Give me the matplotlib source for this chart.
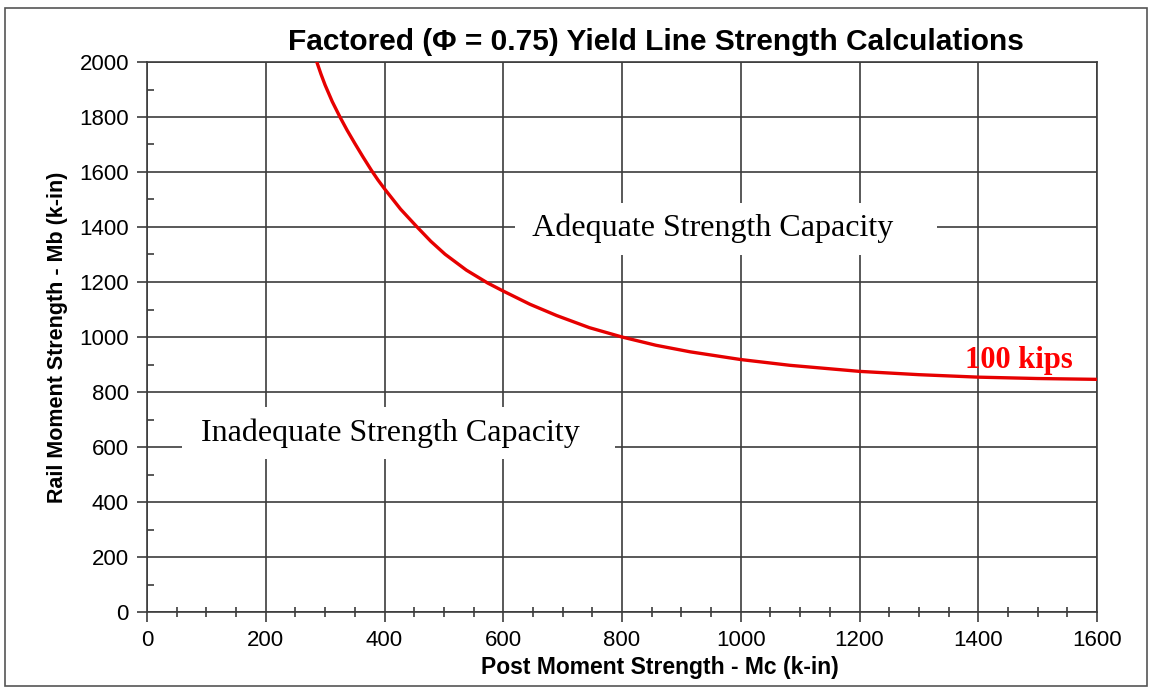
import matplotlib
matplotlib.use("Agg")
import matplotlib.pyplot as plt
from matplotlib.patches import Rectangle
from matplotlib.ticker import MultipleLocator

# Values (100 kips yield line)
post_moment = [286, 293, 300, 312, 325, 337, 350, 364, 378, 389, 400, 427, 454,
               478, 502, 538, 574, 600, 645, 690, 745, 800, 857, 915, 1000,
               1083, 1200, 1300, 1400, 1500, 1600]
rail_moment = [2000, 1956, 1916, 1856, 1800, 1752, 1704, 1654, 1606, 1571, 1539, 1465, 1402,
               1348, 1301, 1243, 1196, 1167, 1119, 1078, 1034, 1000, 970, 946, 918,
               897, 875, 863, 854, 849, 846]

title = "Factored (\u03a6 = 0.75) Yield Line Strength Calculations"
xlabel = "Post Moment Strength - Mc (k-in)"
ylabel = "Rail Moment Strength - Mb (k-in)"
curve_label = "100 kips"

sans = ["Liberation Sans", "DejaVu Sans"]
serif = ["Liberation Serif", "DejaVu Serif"]
grid_color = "#3c3c3c"

fig = plt.figure(figsize=(11.51, 6.89), dpi=100)
ax = fig.add_axes([147 / 1151, 1 - 612 / 689, 950 / 1151, 550 / 689])

ax.plot(post_moment, rail_moment, color="#e60000", linewidth=2.4, zorder=3,
        solid_joinstyle="round")

ax.set_xlim(0, 1600)
ax.set_ylim(0, 2000)
ax.xaxis.set_major_locator(MultipleLocator(200))
ax.xaxis.set_minor_locator(MultipleLocator(50))
ax.yaxis.set_major_locator(MultipleLocator(200))
ax.yaxis.set_minor_locator(MultipleLocator(100))
ax.grid(True, which="major", color=grid_color, linewidth=1.2)
ax.set_axisbelow(True)

ax.tick_params(axis="both", which="major", direction="out", length=7,
               width=1.2, color=grid_color, labelsize=16, pad=6)
ax.tick_params(axis="x", which="minor", direction="inout", length=7,
               width=1.2, color=grid_color)
ax.tick_params(axis="y", which="minor", direction="in", length=5,
               width=1.2, color=grid_color)
for lab in ax.get_xticklabels() + ax.get_yticklabels():
    lab.set_family(sans)
for spine in ax.spines.values():
    spine.set_color(grid_color)
    spine.set_linewidth(1.2)

ax.set_xlabel(xlabel, fontsize=16.5, fontweight="bold", family=sans)
ax.xaxis.set_label_coords((660 - 147) / 950, -0.08)
ax.set_ylabel(ylabel, fontsize=15.5, fontweight="bold", family=sans, labelpad=8)
fig.text(656 / 1151, 1 - 42 / 689, title, fontsize=21.5, fontweight="bold",
         family=sans, ha="center", va="center")

# region labels with white boxes over the grid
box = dict(boxstyle="square,pad=0.35", facecolor="white", edgecolor="none")
ax.text(975, 1394, " Adequate Strength Capacity    ", fontsize=23, family=serif,
        ha="center", va="center", bbox=box, zorder=4)
ax.text(424, 650, " Inadequate Strength Capacity   ", fontsize=23, family=serif,
        ha="center", va="center", bbox=box, zorder=4)
ax.text(1469, 913, curve_label, fontsize=22, fontweight="bold", family=serif,
        color="#ff0000", ha="center", va="center", zorder=5)

# outer frame around the whole chart
fig.patches.append(Rectangle((5 / 1151, 3 / 689), 1142 / 1151, 678 / 689,
                             transform=fig.transFigure, fill=False,
                             edgecolor="#555555", linewidth=1.2))

fig.savefig("out.png", dpi=100)
